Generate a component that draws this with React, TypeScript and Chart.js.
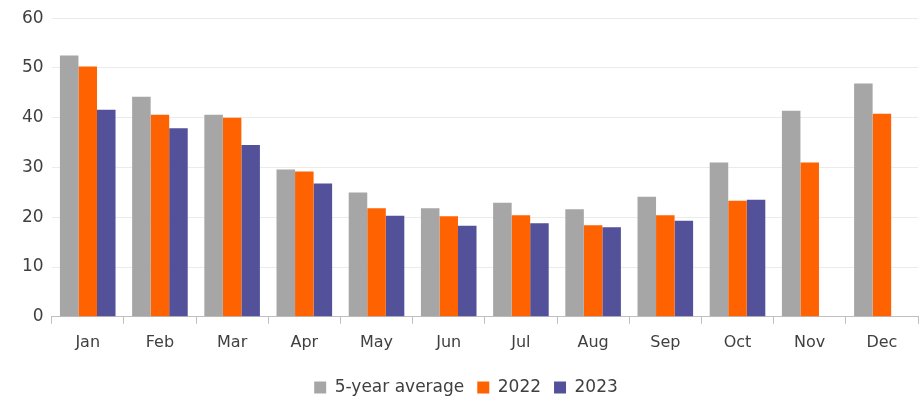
import React, { useEffect, useRef } from "react";
import { Chart, registerables } from "chart.js";

Chart.register(...registerables);

const months = ["Jan", "Feb", "Mar", "Apr", "May", "Jun", "Jul", "Aug", "Sep", "Oct", "Nov", "Dec"];
const avg5y = [52.5, 44.2, 40.6, 29.6, 25.0, 21.8, 22.9, 21.6, 24.1, 31.0, 41.4, 46.9];
const y2022 = [50.3, 40.6, 40.0, 29.2, 21.8, 20.2, 20.4, 18.4, 20.4, 23.3, 31.0, 40.8];
const y2023 = [41.6, 37.9, 34.5, 26.8, 20.3, 18.3, 18.8, 18.0, 19.3, 23.5, null, null];
const yTicks = [0, 10, 20, 30, 40, 50, 60];

const FONT = "'DejaVu Sans', 'Noto Sans', sans-serif";

export default function App() {
  const ref = useRef<HTMLCanvasElement | null>(null);
  useEffect(() => {
    if (!ref.current) return;
    const chart = new Chart(ref.current, {
      type: "bar",
      data: {
        labels: months,
        datasets: [
          { label: "5-year average", data: avg5y, backgroundColor: "#A6A6A6" },
          { label: "2022", data: y2022, backgroundColor: "#FF6200" },
          { label: "2023", data: y2023 as any, backgroundColor: "#525199" },
        ],
      },
      options: {
        animation: false,
        responsive: true,
        maintainAspectRatio: false,
        layout: { padding: { left: 14, right: 4, top: 12, bottom: -3 } },
        datasets: { bar: { categoryPercentage: 0.77, barPercentage: 1.0 } },
        plugins: {
          tooltip: { enabled: false },
          legend: {
            position: "bottom",
            labels: {
              boxWidth: 12,
              boxHeight: 12,
              padding: 13,
              color: "#404040",
              font: { family: FONT, size: 17 },
            },
          },
        },
        scales: {
          x: {
            grid: { drawOnChartArea: false, drawTicks: true, tickLength: 7, offset: true, color: "#BFBFBF" },
            border: { display: true, color: "#BFBFBF" },
            ticks: { color: "#404040", font: { family: FONT, size: 16 }, padding: 9 },
            afterFit: (axis: any) => {
              axis.height += 5;
            },
          },
          y: {
            min: 0,
            max: 60,
            afterBuildTicks: (axis: any) => {
              axis.ticks = yTicks.map((v) => ({ value: v }));
            },
            grid: { color: "#EBEBEB", drawTicks: false },
            border: { display: false },
            ticks: { color: "#404040", font: { family: FONT, size: 17 }, padding: 8 },
          },
        },
      },
    });
    return () => chart.destroy();
  }, []);
  return (
    <div style={{ position: "fixed", left: 0, top: 0, width: 922, height: 403, background: "#fff" }}>
      <canvas ref={ref} />
    </div>
  );
}
